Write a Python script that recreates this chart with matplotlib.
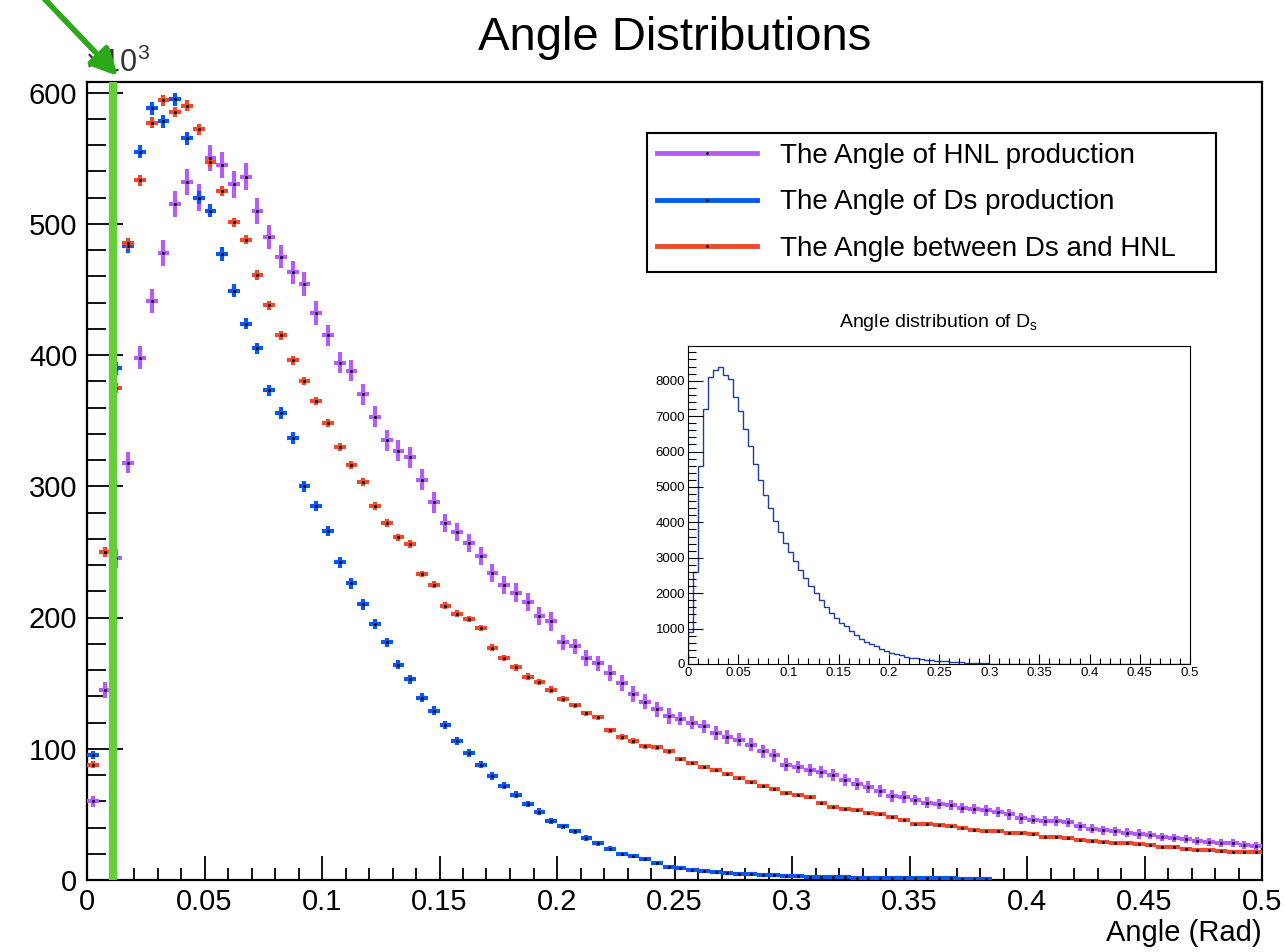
import numpy as np
import matplotlib
matplotlib.use("Agg")
import matplotlib.pyplot as plt
from matplotlib.lines import Line2D
from matplotlib.ticker import MultipleLocator, FuncFormatter

plt.rcParams['font.family'] = ['Liberation Sans', 'DejaVu Sans']
plt.rcParams['mathtext.fontset'] = 'custom'
plt.rcParams['mathtext.rm'] = 'Liberation Sans'
plt.rcParams['mathtext.it'] = 'Liberation Sans:italic'

# ---------------- data (values in units of 10^3) ----------------
bin_edges = np.linspace(0.0, 0.5, 101)
bin_centers = 0.5 * (bin_edges[:-1] + bin_edges[1:])

hnl_values = [60, 145, 245, 318, 398, 441, 478, 515, 532, 520,
              550, 545, 530, 536, 510, 490, 475, 463, 454, 432,
              415, 394, 388, 370, 353, 335, 327, 322, 305, 288,
              272, 265, 257, 247, 234, 225, 219, 212, 201, 197,
              181, 178, 169, 165, 158, 150, 142, 136, 130, 125,
              123, 120, 117, 112, 109, 107, 103, 98, 95, 88,
              86, 84, 82, 80, 76, 73, 71, 68, 64, 63,
              61, 59, 58, 57, 55, 54, 53, 52, 50, 47,
              46, 45, 45, 44, 41, 39, 38, 37, 36, 35,
              34, 33, 32, 31, 30, 29, 28.5, 28, 27, 26]
hnl_errors = [4, 6, 7, 8, 9, 9, 10, 10, 10, 10,
              10, 10, 10, 10, 10, 9, 9, 9, 9, 9,
              8, 8, 8, 8, 8, 8, 8, 8, 8, 8,
              7, 7, 7, 7, 7, 7, 7, 7, 7, 7,
              6, 6, 6, 6, 6, 6, 6, 6, 6, 6,
              5, 5, 5, 5, 5, 5, 5, 5, 5, 5,
              4.5, 4.5, 4.5, 4.5, 4.5, 4.5, 4.5, 4.5, 4.5, 4.5,
              4, 4, 4, 4, 4, 4, 4, 4, 4, 4,
              3.5, 3.5, 3.5, 3.5, 3.5, 3.5, 3.5, 3.5, 3.5, 3.5,
              3, 3, 3, 3, 3, 3, 3, 3, 3, 3]

ds_values = [95, 250, 390, 483, 555, 588, 578, 595, 565, 520,
             510, 477, 449, 424, 405, 373, 356, 337, 300, 285,
             266, 242, 226, 210, 195, 181, 164, 153, 139, 129,
             118, 106, 97, 88, 79, 72, 65, 58, 52, 45,
             41, 37, 32, 28, 24, 20, 18, 16, 13, 10,
             9.5, 8, 7, 6, 5.2, 4.6, 4.2, 3.9, 3.6, 3.2,
             2.9, 2.5, 2.3, 2.1, 2.0, 1.9, 1.8, 1.7, 1.6, 1.5,
             1.4, 1.3, 1.3, 1.2, 1.1, 1.0, 0.8, np.nan, np.nan, np.nan,
             np.nan, np.nan, np.nan, np.nan, np.nan, np.nan, np.nan, np.nan, np.nan, np.nan,
             np.nan, np.nan, np.nan, np.nan, np.nan, np.nan, np.nan, np.nan, np.nan, np.nan]
ds_errors = [3, 4, 5, 5, 5, 5, 5, 5, 5, 5,
             5, 5, 5, 4.5, 4.5, 4.5, 4.5, 4.5, 4, 4,
             4, 4, 4, 4, 3.5, 3.5, 3.5, 3.5, 3.5, 3.5,
             3, 3, 3, 3, 3, 3, 2.5, 2.5, 2.5, 2.5,
             2, 2, 2, 2, 2, 1.5, 1.5, 1.5, 1.5, 1.5,
             1, 1, 1, 1, 1, 1, 1, 1, 1, 1,
             0.7, 0.7, 0.7, 0.7, 0.7, 0.7, 0.7, 0.7, 0.7, 0.7,
             0.5, 0.5, 0.5, 0.5, 0.5, 0.5, 0.5, 0.5, 0.5, 0.5,
             0.5, 0.5, 0.5, 0.5, 0.5, 0.5, 0.5, 0.5, 0.5, 0.5,
             0.5, 0.5, 0.5, 0.5, 0.5, 0.5, 0.5, 0.5, 0.5, 0.5]

between_values = [88, 250, 375, 485, 533, 577, 594, 585, 590, 572,
                  547, 525, 501, 488, 461, 438, 415, 396, 380, 365,
                  348, 330, 316, 303, 285, 272, 261, 256, 233, 225,
                  209, 203, 199, 192, 177, 169, 162, 155, 151, 145,
                  138, 133, 127, 124, 114, 109, 106, 102, 101, 98,
                  92, 89, 86, 84, 81, 78, 75, 72, 69, 66,
                  65, 63, 59, 56, 54, 53, 51, 50, 48, 46,
                  43, 43, 42, 41, 40, 38, 37.5, 37, 36, 35.5,
                  35, 33, 32.5, 32, 30.5, 30, 29, 28.5, 28, 27.5,
                  26.5, 25.5, 25, 24, 23, 22.5, 22, 21.5, 21, 21]
between_errors = [3, 4, 4, 4, 4, 4, 4, 4, 4, 4,
                  4, 4, 3.5, 3.5, 3.5, 3.5, 3.5, 3.5, 3, 3,
                  3, 3, 3, 3, 3, 3, 3, 3, 2.5, 2.5,
                  2.5, 2.5, 2.5, 2.5, 2.5, 2.5, 2.5, 2.5, 2.5, 2.5,
                  2, 2, 2, 2, 2, 2, 2, 2, 2, 2,
                  1.5, 1.5, 1.5, 1.5, 1.5, 1.5, 1.5, 1.5, 1.5, 1.5,
                  1.2, 1.2, 1.2, 1.2, 1.2, 1.2, 1.2, 1.2, 1.2, 1.2,
                  1, 1, 1, 1, 1, 1, 1, 1, 1, 1,
                  1, 1, 1, 1, 1, 1, 1, 1, 1, 1,
                  1, 1, 1, 1, 1, 1, 1, 1, 1, 1]

inset_counts = [900, 2600, 5600, 7200, 8100, 8300, 8400, 8150, 8050, 7550,
                7150, 6650, 6150, 5650, 5200, 4770, 4400, 4050, 3730, 3420,
                3150, 2900, 2650, 2420, 2200, 2000, 1800, 1620, 1440, 1300,
                1170, 1060, 940, 830, 700, 630, 560, 500, 430, 370,
                310, 280, 250, 210, 180, 160, 140, 120, 110, 95,
                85, 75, 65, 55, 48, 40, 33, 28, 22, 18,
                14, 11, 9, 7, 5, 4, 3, 2, 1, 1,
                0, 0, 0, 0, 0, 0, 0, 0, 0, 0,
                0, 0, 0, 0, 0, 0, 0, 0, 0, 0,
                0, 0, 0, 0, 0, 0, 0, 0, 0, 0]

series_labels = ["The Angle of HNL production",
                 "The Angle of Ds production",
                 "The Angle between Ds and HNL"]
series_colors = ["#b35cf7", "#0a57f2", "#eb4b2c"]
marked_angle = 0.011

# ---------------- figure ----------------
W, H = 1285, 952
fig = plt.figure(figsize=(W / 100, H / 100), dpi=100)
ax = fig.add_axes([87 / W, 1 - 880 / H, (1262 - 87) / W, (880 - 82) / H])

half_bin = 0.5 * (bin_edges[1] - bin_edges[0])
for vals, errs, col in zip([hnl_values, ds_values, between_values],
                           [hnl_errors, ds_errors, between_errors],
                           series_colors):
    ax.errorbar(bin_centers, vals, yerr=errs, xerr=half_bin, fmt='.',
                ms=2.2, mfc='k', mec='k', ecolor=col, elinewidth=3.0,
                capsize=0, zorder=3)

ax.set_xlim(0, 0.5)
ax.set_ylim(0, 608)
ax.xaxis.set_major_locator(MultipleLocator(0.05))
ax.xaxis.set_minor_locator(MultipleLocator(0.01))
ax.yaxis.set_major_locator(MultipleLocator(100))
ax.yaxis.set_minor_locator(MultipleLocator(20))
ax.xaxis.set_major_formatter(FuncFormatter(lambda v, p: "%g" % round(v, 3)))
ax.tick_params(axis='both', which='both', direction='in', top=False, right=False,
               width=1.3, labelsize=21)
ax.tick_params(axis='y', which='major', length=26, pad=7)
ax.tick_params(axis='y', which='minor', length=14)
ax.tick_params(axis='x', which='major', length=17, pad=6)
ax.tick_params(axis='x', which='minor', length=9)
for s in ax.spines.values():
    s.set_linewidth(1.6)
ax.set_xlabel("Angle (Rad)", loc='right', fontsize=21, labelpad=2)
ax.text(-0.002, 1.004, "×10$^{3}$", transform=ax.transAxes, fontsize=22,
        ha='left', va='bottom', color='#333333')

fig.text(675 / W, 1 - 38 / H, "Angle Distributions", ha='center', va='center',
         fontsize=34)

# legend
handles = [Line2D([], [], color=c, lw=3.5, marker='.', ms=2, mfc='k', mec='k')
           for c in series_colors]
leg = ax.legend(handles, series_labels, loc='upper left',
                bbox_to_anchor=(647 / W, 1 - 272 / H, (1216 - 647) / W, (272 - 133) / H),
                bbox_transform=fig.transFigure, mode='expand', borderaxespad=0,
                fontsize=20, handlelength=3.6, handletextpad=0.85, labelspacing=0.74,
                borderpad=0.35, fancybox=False, framealpha=1, edgecolor='black',
                numpoints=1)
leg.get_frame().set_linewidth(1.5)
leg.set_zorder(6)

# green marker line
ax.axvline(marked_angle, ymin=0.003, ymax=1.0, color='#64cf3a', lw=6.0, zorder=5)

# green arrow
ax.annotate("", xy=(118, H - 76), xycoords='figure pixels',
            xytext=(36, H + 10), textcoords='figure pixels',
            arrowprops=dict(arrowstyle='-|>,head_length=1.6,head_width=0.8',
                            color='#2ca818', lw=4.0, shrinkA=0, shrinkB=0),
            annotation_clip=False, zorder=7)

# ---------------- inset ----------------
axi = fig.add_axes([688 / W, 1 - 664 / H, (1190 - 688) / W, (664 - 346) / H])
axi.stairs(inset_counts, bin_edges, color='#1f3c9e', lw=1.0)
axi.set_xlim(0, 0.5)
axi.set_ylim(0, 8980)
axi.xaxis.set_major_locator(MultipleLocator(0.05))
axi.xaxis.set_minor_locator(MultipleLocator(0.01))
axi.yaxis.set_major_locator(MultipleLocator(1000))
axi.yaxis.set_minor_locator(MultipleLocator(200))
axi.xaxis.set_major_formatter(FuncFormatter(lambda v, p: "%g" % round(v, 3)))
axi.tick_params(axis='both', which='both', direction='in', top=False, right=False,
                width=0.8, labelsize=9.5, pad=2)
axi.tick_params(axis='y', which='major', length=11)
axi.tick_params(axis='y', which='minor', length=6)
axi.tick_params(axis='x', which='major', length=7)
axi.tick_params(axis='x', which='minor', length=4)
for s in axi.spines.values():
    s.set_linewidth(0.8)
axi.set_title("Angle distribution of D$_{\\rm s}$", fontsize=14, pad=14)

fig.savefig("out.png", dpi=100)
